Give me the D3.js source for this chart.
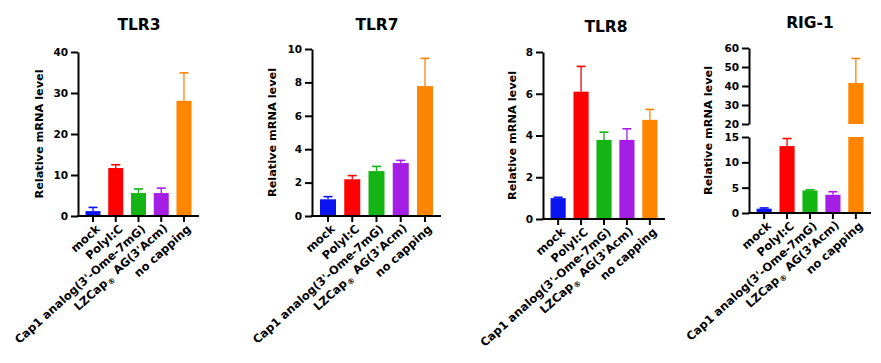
<!DOCTYPE html>
<html>
<head>
<meta charset="utf-8">
<style>
body { margin: 0; background: #fff; }
svg { font-family: "DejaVu Sans", Arial, sans-serif; font-weight: bold; }
.axis path, .axis line { stroke: #000; stroke-width: 2; }
.axis text { font-size: 10.5px; font-weight: bold; fill: #000; font-family: "DejaVu Sans", Arial, sans-serif; }
.axis text.xlab { font-size: 11.5px; }
.axis text.xlab tspan.reg { font-size: 7.5px; }
</style>
</head>
<body>
<svg id="chart" width="881" height="363"></svg>
<script src="https://d3js.org/d3.v7.min.js"></script>
<script>

// groups along the x axis
const categories = ["mock", "PolyI:C", "Cap1 analog(3'-Ome-7mG)", "LZCap® AG(3'Acm)", "no capping"];

// means and error (SD)
const tlr3Mean = [1.2, 11.7, 5.6, 5.6, 28.1];
const tlr3Err  = [0.9, 0.8, 1.0, 1.2, 6.8];
const tlr7Mean = [1.0, 2.2, 2.69, 3.17, 7.78];
const tlr7Err  = [0.16, 0.22, 0.28, 0.16, 1.66];
const tlr8Mean = [1.0, 6.1, 3.79, 3.79, 4.75];
const tlr8Err  = [0.04, 1.21, 0.37, 0.53, 0.5];
const rigMean  = [0.85, 13.2, 4.45, 3.6, 41.6];
const rigErr   = [0.15, 1.5, 0.12, 0.6, 12.9];

// tick labels
const tlr3Ticks = [0, 10, 20, 30, 40];
const tlr7Ticks = [0, 2, 4, 6, 8, 10];
const tlr8Ticks = [0, 2, 4, 6, 8];
const rigLowTicks = [0, 5, 10, 15];
const rigHighTicks = [20, 30, 40, 50, 60];

const barColors = ["#0a14f0", "#ff0000", "#14b414", "#a51ee6", "#ff8400"];

const svg = d3.select("#chart");

// layout of the four panels
const panels = [
  {title: "TLR3", mean: tlr3Mean, err: tlr3Err, ticks: tlr3Ticks, x0: 78, x1: 199, yTop: 52, yBot: 216, titleX: 139, titleY: 30, labelX: 39},
  {title: "TLR7", mean: tlr7Mean, err: tlr7Err, ticks: tlr7Ticks, x0: 312, x1: 441, yTop: 49, yBot: 216, titleX: 377, titleY: 30, labelX: 272},
  {title: "TLR8", mean: tlr8Mean, err: tlr8Err, ticks: tlr8Ticks, x0: 543, x1: 665, yTop: 52, yBot: 219, titleX: 606, titleY: 32, labelX: 512},
  {title: "RIG-1", mean: rigMean, err: rigErr, ticks: rigLowTicks, highTicks: rigHighTicks, x0: 749, x1: 871,
   yTop: 137, yBot: 213, hiTop: 48, hiBot: 124, titleX: 810, titleY: 28, labelX: 708}
];

function errorBar(g, cx, yA, yB, color) {
  g.append("line").attr("x1", cx).attr("x2", cx).attr("y1", yA).attr("y2", yB)
    .attr("stroke", color).attr("stroke-width", 1.3);
  g.append("line").attr("x1", cx - 4.5).attr("x2", cx + 4.5).attr("y1", yB).attr("y2", yB)
    .attr("stroke", color).attr("stroke-width", 1.6);
}

panels.forEach(p => {
  const g = svg.append("g");
  const rows = categories.map((c, i) => ({cat: c, mean: p.mean[i], err: p.err[i], color: barColors[i]}));

  const x = d3.scaleBand().domain(categories).range([p.x0, p.x1])
    .paddingInner(0.34).paddingOuter(0.33);
  const lowMax = p.ticks[p.ticks.length - 1];
  const y = d3.scaleLinear().domain([0, lowMax]).range([p.yBot, p.yTop]);
  let yHi = null;
  if (p.highTicks) {
    yHi = d3.scaleLinear().domain([p.highTicks[0], p.highTicks[p.highTicks.length - 1]]).range([p.hiBot, p.hiTop]);
  }

  // bars
  rows.forEach(d => {
    const bx = x(d.cat), bw = x.bandwidth(), cx = bx + bw / 2;
    if (yHi && d.mean > lowMax) {
      g.append("rect").attr("x", bx).attr("y", y(lowMax)).attr("width", bw)
        .attr("height", p.yBot - y(lowMax)).attr("fill", d.color);
      g.append("rect").attr("x", bx).attr("y", yHi(d.mean)).attr("width", bw)
        .attr("height", p.hiBot - yHi(d.mean)).attr("fill", d.color);
      errorBar(g, cx, yHi(d.mean), yHi(d.mean + d.err), d.color);
    } else {
      errorBar(g, cx, y(d.mean), y(d.mean + d.err), d.color);
      g.append("rect").attr("x", bx).attr("y", y(d.mean)).attr("width", bw)
        .attr("height", p.yBot - y(d.mean)).attr("fill", d.color);
    }
  });

  // y axis
  g.append("g").attr("class", "axis")
    .attr("transform", `translate(${p.x0},0)`)
    .call(d3.axisLeft(y).tickValues(p.ticks).tickSize(7).tickSizeOuter(0).tickPadding(3));
  if (yHi) {
    g.append("g").attr("class", "axis")
      .attr("transform", `translate(${p.x0},0)`)
      .call(d3.axisLeft(yHi).tickValues(p.highTicks).tickSize(7).tickSizeOuter(0).tickPadding(3));
  }

  // x axis
  const xa = g.append("g").attr("class", "axis")
    .attr("transform", `translate(0,${p.yBot})`)
    .call(d3.axisBottom(x).tickSize(6).tickSizeOuter(0).tickFormat(""));
  xa.select(".domain").attr("d", `M${p.x0 - 1},0H${p.x1}`);

  xa.selectAll(".tick").each(function(c) {
    const t = d3.select(this).append("text")
      .attr("class", "xlab")
      .attr("text-anchor", "end")
      .attr("transform", "translate(5,11) rotate(-42)")
      .attr("dy", "0.35em");
    if (c.includes("®")) {
      const parts = c.split("®");
      t.append("tspan").text(parts[0]);
      t.append("tspan").attr("class", "reg").attr("dy", "0.3em").attr("dx", "0.1em").text("®");
      t.append("tspan").attr("dy", "-0.3em").attr("dx", "0.1em").text(parts[1]);
    } else {
      t.text(c);
    }
  });

  // title
  g.append("text")
    .attr("x", p.titleX).attr("y", p.titleY)
    .attr("text-anchor", "middle").attr("font-size", "15.5px").text(p.title);

  // y label
  const midY = yHi ? (p.hiTop + p.yBot) / 2 : (p.yTop + p.yBot) / 2;
  g.append("text")
    .attr("transform", `translate(${p.labelX},${midY}) rotate(-90)`)
    .attr("text-anchor", "middle").attr("dy", "0.35em")
    .attr("font-size", "11.3px").text("Relative mRNA level");
});

</script>
</body>
</html>
